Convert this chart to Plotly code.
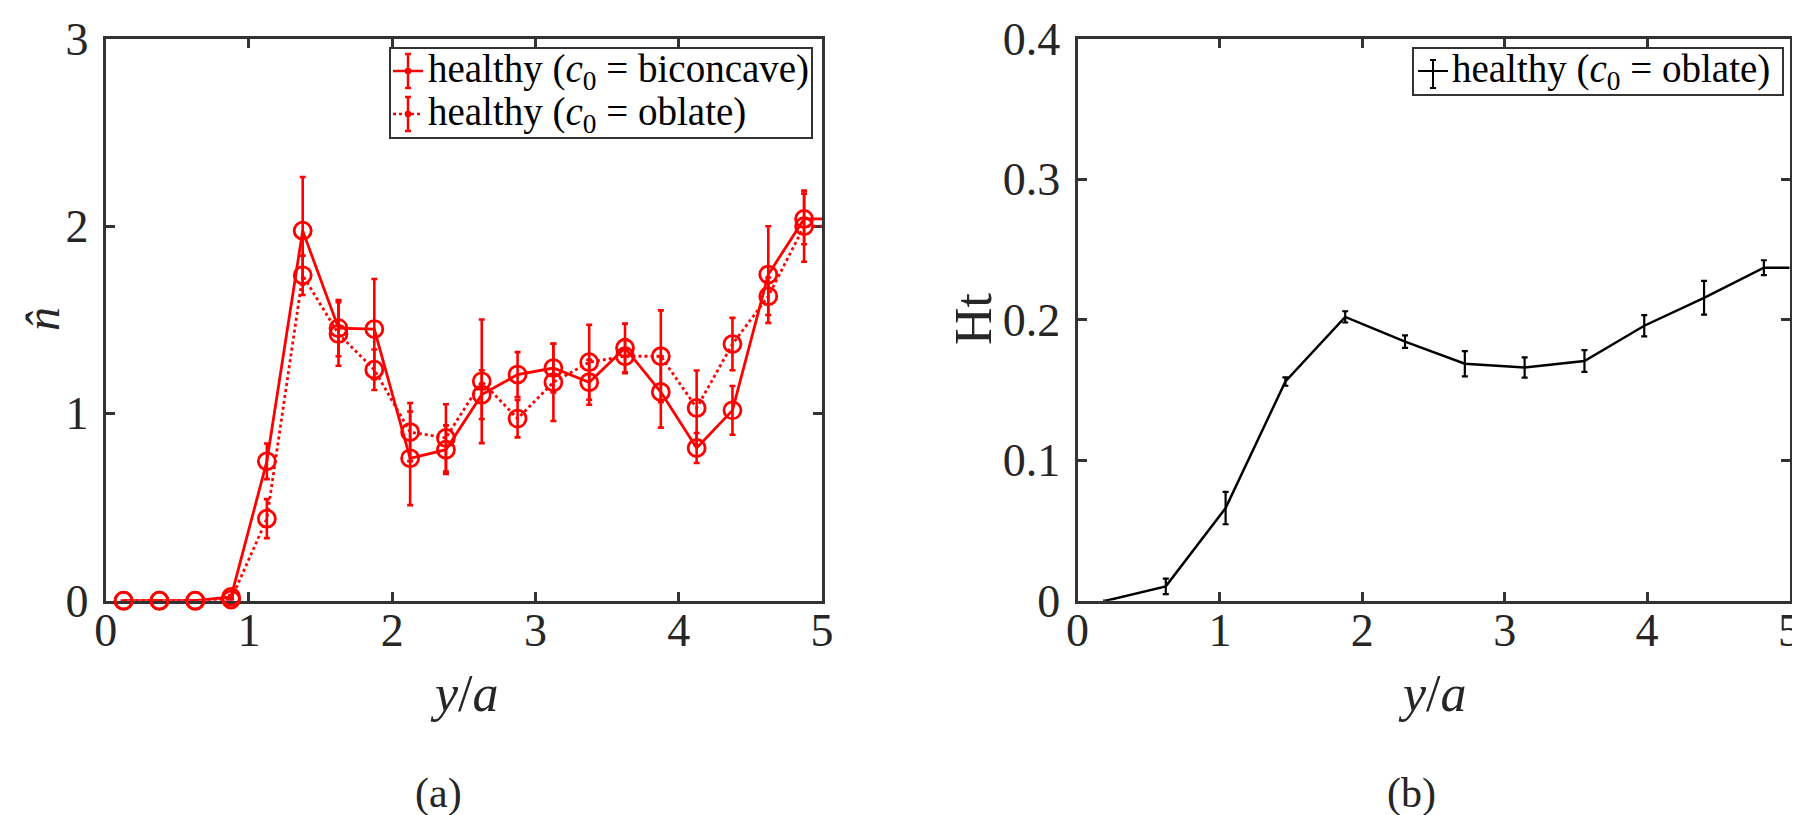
import plotly.graph_objects as go

# ---------------- Panel (a) data ----------------
y_a = [0.125, 0.375, 0.625, 0.875, 1.125, 1.375, 1.625, 1.875, 2.125, 2.375,
       2.625, 2.875, 3.125, 3.375, 3.625, 3.875, 4.125, 4.375, 4.625, 4.875, 5.125]
n_biconcave = [0, 0, 0, 0.02, 0.744, 1.975, 1.455, 1.45, 0.76, 0.806,
               1.10, 1.207, 1.242, 1.166, 1.349, 1.114, 0.815, 1.016, 1.741, 2.038, 2.038]
err_biconcave = [None, None, None, 0.01, 0.095, 0.287, 0.15, 0.267, 0.25, 0.13,
                 0.13, 0.12, 0.13, 0.12, 0.13, 0.19, 0.08, 0.13, 0.258, 0.135, None]
n_oblate = [0, 0, 0, 0.006, 0.438, 1.737, 1.424, 1.233, 0.90, 0.869,
            1.171, 0.972, 1.166, 1.273, 1.305, 1.305, 1.029, 1.37, 1.625, 1.999, 1.999]
err_oblate = [None, None, None, 0.01, 0.104, 0.105, 0.17, 0.108, 0.155, 0.18,
              0.33, 0.10, 0.207, 0.20, 0.09, 0.245, 0.20, 0.14, 0.10, 0.19, None]

# ---------------- Panel (b) data ----------------
y_b = [0.20, 0.62, 1.04, 1.46, 1.88, 2.30, 2.72, 3.14, 3.56, 3.98, 4.40, 4.82, 5.24]
ht_oblate = [0.0, 0.0102, 0.0659, 0.156, 0.202, 0.1844, 0.1687, 0.166, 0.1706,
             0.1957, 0.2156, 0.237, 0.237]
err_ht = [None, 0.0055, 0.0115, 0.003, 0.004, 0.0045, 0.009, 0.0072, 0.0077,
          0.0075, 0.012, 0.0053, None]

x_ticks = [0, 1, 2, 3, 4, 5]
y_ticks_a = [0, 1, 2, 3]
y_ticks_b = [0, 0.1, 0.2, 0.3, 0.4]
label_bic = "healthy (<i>c</i><sub>0</sub> = biconcave)"
label_obl = "healthy (<i>c</i><sub>0</sub> = oblate)"

RED = "#ff0000"
AXC = "#333333"
TXT = "#262626"
FONT = "Liberation Serif"
W, H = 1800, 815


def px(x, y):
    """pixel position in the figure -> paper coordinates"""
    return x / W, 1 - y / H


fig = go.Figure()

# panel (a) traces
fig.add_trace(go.Scatter(
    x=y_a, y=n_biconcave, mode="lines+markers", name=label_bic, showlegend=False,
    cliponaxis=False,
    line=dict(color=RED, width=2.8),
    marker=dict(symbol="circle-open", size=17, color=RED, line=dict(width=2.8)),
    error_y=dict(type="data", array=err_biconcave, color=RED, thickness=2.6, width=3),
    xaxis="x", yaxis="y"))
fig.add_trace(go.Scatter(
    x=y_a, y=n_oblate, mode="lines+markers", name=label_obl, showlegend=False,
    cliponaxis=False,
    line=dict(color=RED, width=2.8, dash="dot"),
    marker=dict(symbol="circle-open", size=17, color=RED, line=dict(width=2.8)),
    error_y=dict(type="data", array=err_oblate, color=RED, thickness=2.6, width=3),
    xaxis="x", yaxis="y"))

# panel (b) trace
fig.add_trace(go.Scatter(
    x=y_b, y=ht_oblate, mode="lines", name=label_obl, showlegend=False,
    cliponaxis=False,
    line=dict(color="black", width=2.5),
    error_y=dict(type="data", array=err_ht, color="black", thickness=2.2, width=3),
    xaxis="x2", yaxis="y2"))

ydom = [1 - 592.7 / H, 1 - 30.7 / H]
axis_common = dict(
    showline=True, linecolor=AXC, linewidth=3, mirror="ticks",
    ticks="inside", ticklen=9, tickwidth=3, tickcolor=AXC,
    showgrid=False, zeroline=False, layer="below traces",
    tickfont=dict(family=FONT, size=46, color=TXT), automargin=False,
)
xax = dict(axis_common, ticklabelstandoff=-13)
yax = dict(axis_common, ticklabelstandoff=5)

fig.update_layout(
    width=W, height=H,
    margin=dict(l=0, r=0, t=0, b=0),
    paper_bgcolor="white", plot_bgcolor="white",
    font=dict(family=FONT, color=TXT),
    showlegend=False,
    xaxis=dict(domain=[97.7 / W, 814 / W], range=[0, 5], tickvals=x_ticks,
               anchor="y", **xax),
    yaxis=dict(domain=ydom, range=[0, 3], tickvals=y_ticks_a, anchor="x", **yax),
    xaxis2=dict(domain=[1069.5 / W, 1781.5 / W], range=[0, 5], tickvals=x_ticks,
                anchor="y2", **xax),
    yaxis2=dict(domain=ydom, range=[0, 0.4], tickvals=y_ticks_b, anchor="x2", **yax),
)

# ---------------- hand-built legends (MATLAB errorbar style glyphs) ----------------
shapes = []


def seg(x0, y0, x1, y1, color, width, dash="solid"):
    a, b = px(x0, y0)
    c, d = px(x1, y1)
    shapes.append(dict(type="line", xref="paper", yref="paper", x0=a, y0=b, x1=c, y1=d,
                       line=dict(color=color, width=width, dash=dash), layer="above"))


def box(x0, y0, x1, y1):
    a, b = px(x0, y1)
    c, d = px(x1, y0)
    shapes.append(dict(type="rect", xref="paper", yref="paper", x0=a, y0=b, x1=c, y1=d,
                       line=dict(color=AXC, width=2), fillcolor="white", layer="above"))


def glyph(xc, yc, top, bot, color, width, dash, dot):
    seg(xc - 15, yc, xc + 15, yc, color, width, dash)
    seg(xc, top, xc, bot, color, width)
    seg(xc - 3, top, xc + 3, top, color, width)
    seg(xc - 3, bot, xc + 3, bot, color, width)
    if dot:
        a, b = px(xc - 3, yc - 3)
        c, d = px(xc + 3, yc + 3)
        shapes.append(dict(type="circle", xref="paper", yref="paper", x0=a, y0=d, x1=c,
                           y1=b, line=dict(color=color, width=1), fillcolor=color,
                           layer="above"))


legend_a_box = (382, 40, 804, 130)
legend_a_rows = [(63, label_bic, "solid"), (106, label_obl, "dot")]
legend_b_box = (1405, 40, 1775, 87)
legend_b_rows = [(63, label_obl)]

box(*legend_a_box)
for yc, txt, dash in legend_a_rows:
    glyph(400, yc, yc - 17, yc + 17, RED, 2.5, dash, True)
    x, y = px(418, yc)
    fig.add_annotation(text=txt, x=x, y=y, xref="paper", yref="paper", xanchor="left",
                       yanchor="middle", showarrow=False,
                       font=dict(family=FONT, size=39, color="black"))
box(*legend_b_box)
for yc, txt in legend_b_rows:
    glyph(1425, yc, yc - 11, yc + 17, "black", 2, "solid", False)
    x, y = px(1442, yc)
    fig.add_annotation(text=txt, x=x, y=y, xref="paper", yref="paper", xanchor="left",
                       yanchor="middle", showarrow=False,
                       font=dict(family=FONT, size=39, color="black"))

fig.update_layout(shapes=shapes)

# ---------------- axis titles & captions ----------------
ann = [
    dict(text="<i>y</i>/<i>a</i>", x=456, y=685, size=52, angle=0),
    dict(text="<i>y</i>/<i>a</i>", x=1424, y=685, size=52, angle=0),
    dict(text="(a)", x=430, y=785, size=42, angle=0),
    dict(text="(b)", x=1403, y=785, size=42, angle=0),
    dict(text="<i>n\u0302</i>", x=34, y=311, size=48, angle=-90),
    dict(text="Ht", x=965, y=311, size=52, angle=-90),
]
for a in ann:
    x, y = px(a["x"], a["y"])
    fig.add_annotation(text=a["text"], x=x, y=y, xref="paper", yref="paper",
                       xanchor="center", yanchor="middle", showarrow=False,
                       textangle=a["angle"],
                       font=dict(family=FONT, size=a["size"], color=TXT))

fig.write_html("out.html")
